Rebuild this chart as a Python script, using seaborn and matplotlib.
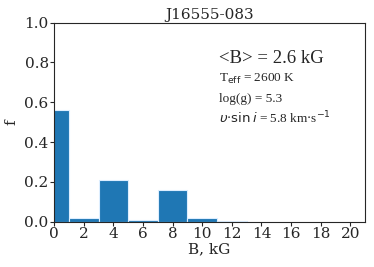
import numpy as np
import pandas as pd
import matplotlib
matplotlib.use("Agg")
import matplotlib.pyplot as plt
import seaborn as sns

sns.set_style("ticks")
plt.rcParams["font.family"] = ["DejaVu Serif"]
plt.rcParams["mathtext.fontset"] = "dejavusans"

# field strength bins (kG) and filling factors
b_centers = [0, 2, 4, 6, 8, 10, 12]
f_values = [0.56, 0.02, 0.21, 0.01, 0.16, 0.02, 0.005]
bin_edges = [-1, 1, 3, 5, 7, 9, 11, 13]

df = pd.DataFrame({"B": b_centers, "f": f_values})

fig, ax = plt.subplots(figsize=(3.74, 2.67), dpi=100)
sns.histplot(data=df, x="B", weights="f", bins=bin_edges, ax=ax,
             color="#1f77b4", alpha=1, edgecolor="#ddeeff", linewidth=0.8)

ax.set_xlim(0, 21)
ax.set_ylim(0, 1)
ax.set_xticks(range(0, 21, 2))
ax.set_yticks(np.arange(0, 1.01, 0.2))
ax.set_xlabel("B, kG", fontsize=11, labelpad=1)
ax.set_ylabel("f", fontsize=11)
ax.set_title("J16555-083", fontsize=11, pad=3)
ax.tick_params(labelsize=11, length=3, pad=1)
for s in ax.spines.values():
    s.set_linewidth(0.8)

ax.text(11.1, 0.82, "<B> = 2.6 kG", fontsize=13.5, family="Liberation Serif", va="center")
ax.text(11.1, 0.715, r"T$_{\rm eff}$ = 2600 K", fontsize=9.5, family="Liberation Serif", va="center")
ax.text(11.1, 0.615, "log(g) = 5.3", fontsize=9.5, family="Liberation Serif", va="center")
ax.text(11.1, 0.52, r"$\upsilon{\cdot}\sin i$ = 5.8 km$\cdot$s$^{-1}$", fontsize=9.5,
        family="Liberation Serif", va="center")

fig.subplots_adjust(left=0.145, right=0.976, top=0.915, bottom=0.17)
fig.savefig("out.png", dpi=100)
